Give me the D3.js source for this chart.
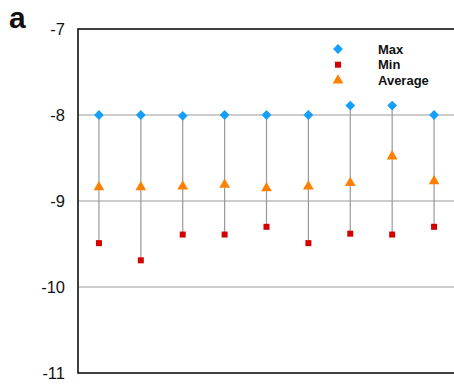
<!DOCTYPE html>
<html>
<head>
<meta charset="utf-8">
<script src="https://cdn.jsdelivr.net/npm/d3@7"></script>
<style>
  body { margin: 0; background: #fff; }
  svg { display: block; font-family: "Liberation Sans", Arial, sans-serif; }
</style>
</head>
<body>
<div id="chart"></div>
<script>
// data
const categories = ['1', '2', '3', '4', '5', '6', '7', '8', '9'];
const maxValues = [-8.0, -8.0, -8.01, -8.0, -8.0, -8.0, -7.89, -7.89, -8.0];
const minValues = [-9.49, -9.69, -9.39, -9.39, -9.30, -9.49, -9.38, -9.39, -9.30];
const avgValues = [-8.84, -8.84, -8.83, -8.81, -8.85, -8.83, -8.79, -8.48, -8.77];
const yTicks = [-7, -8, -9, -10, -11];
const legendItems = ['Max', 'Min', 'Average'];

const W = 454, H = 387;
const M = { top: 29, left: 78, bottom: 14, right: -1 };

const rows = categories.map((c, i) => ({ c, max: maxValues[i], min: minValues[i], avg: avgValues[i] }));

const svg = d3.select('#chart').append('svg').attr('width', W).attr('height', H);

const x = d3.scalePoint().domain(categories).range([M.left, W - M.right]).padding(0.5);
const y = d3.scaleLinear().domain([-11, -7]).range([H - M.bottom, M.top]);

const colors = { max: '#14a0fa', min: '#d40000', avg: '#ff8000' };

// gridlines
svg.append('g').selectAll('line')
  .data(yTicks.filter(t => t > -11 && t < -7))
  .join('line')
  .attr('x1', M.left).attr('x2', W)
  .attr('y1', d => y(d)).attr('y2', d => y(d))
  .attr('stroke', '#999').attr('stroke-width', 1);

// frame
svg.append('rect')
  .attr('x', M.left).attr('y', M.top)
  .attr('width', W - M.right - M.left).attr('height', y(-11) - M.top)
  .attr('fill', 'none').attr('stroke', '#111').attr('stroke-width', 1.6);

// y axis labels (plain hyphen minus like the original)
const yAxis = d3.axisLeft(y).tickValues(yTicks).tickSize(0).tickPadding(13).tickFormat(d => String(d));
svg.append('g')
  .attr('transform', `translate(${M.left},0)`)
  .call(yAxis)
  .call(g => g.select('.domain').remove())
  .call(g => g.selectAll('text')
    .attr('font-size', 16.5).attr('fill', '#111')
    .attr('font-family', '"Liberation Sans", Arial, sans-serif'));

// range lines
svg.append('g').selectAll('line')
  .data(rows)
  .join('line')
  .attr('x1', d => x(d.c)).attr('x2', d => x(d.c))
  .attr('y1', d => y(d.max)).attr('y2', d => y(d.min))
  .attr('stroke', '#999').attr('stroke-width', 1.2);

// rotated square for the diamond marker
const diamond = d3.symbol().type(d3.symbolSquare).size(48);
const square = d3.symbol().type(d3.symbolSquare).size(36);
const triangle = d3.symbol().type(d3.symbolTriangle).size(50);

svg.append('g').selectAll('path')
  .data(rows).join('path')
  .attr('d', square)
  .attr('transform', d => `translate(${x(d.c)},${y(d.min)})`)
  .attr('fill', colors.min);

svg.append('g').selectAll('path')
  .data(rows).join('path')
  .attr('d', triangle)
  .attr('transform', d => `translate(${x(d.c)},${y(d.avg)})`)
  .attr('fill', colors.avg);

svg.append('g').selectAll('path')
  .data(rows).join('path')
  .attr('d', diamond)
  .attr('transform', d => `translate(${x(d.c)},${y(d.max)}) rotate(45)`)
  .attr('fill', colors.max);

// legend
const legendShapes = [diamond, square, triangle];
const legendColors = [colors.max, colors.min, colors.avg];
const legend = svg.append('g').attr('transform', 'translate(338,49)');
legendItems.forEach((name, i) => {
  const g = legend.append('g').attr('transform', `translate(0,${i * 15.7})`);
  g.append('path').attr('d', legendShapes[i]).attr('fill', legendColors[i])
    .attr('transform', i === 0 ? 'rotate(45)' : null);
  g.append('text')
    .attr('x', 40).attr('y', 4.5)
    .attr('font-size', 13).attr('font-weight', 'bold').attr('fill', '#111')
    .text(name);
});

// panel letter
svg.append('text')
  .attr('x', 9).attr('y', 28)
  .attr('font-size', 30).attr('font-weight', 'bold').attr('fill', '#111')
  .text('a');
</script>
</body>
</html>
